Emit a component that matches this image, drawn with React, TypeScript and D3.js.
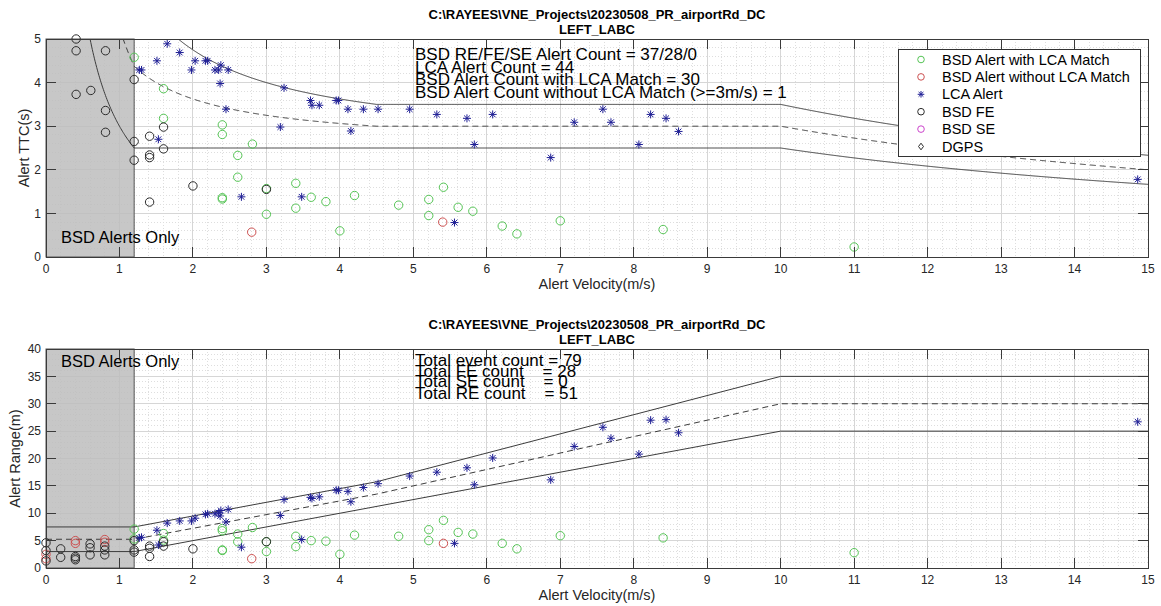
import React from 'react';
import * as d3 from 'd3';

const FONT = '"Liberation Sans", Arial, Helvetica, sans-serif';
const W = 1161;
const H = 606;
const LEFT = 46;
const RIGHT = 1148;

const titleLine1 = 'C:\\RAYEES\\VNE_Projects\\20230508_PR_airportRd_DC';
const titleLine2 = 'LEFT_LABC';
const xLabel = 'Alert Velocity(m/s)';
const velocityTicks = [0, 1, 2, 3, 4, 5, 6, 7, 8, 9, 10, 11, 12, 13, 14, 15];
const ttcTicks = [0, 1, 2, 3, 4, 5];
const rangeTicks = [0, 5, 10, 15, 20, 25, 30, 35, 40];

const ttcNotes = [
  'BSD RE/FE/SE Alert Count = 37/28/0',
  'LCA Alert Count = 44',
  'BSD Alert Count with LCA Match = 30',
  'BSD Alert Count without LCA Match (>=3m/s) = 1',
];
const rangeNotes = [
  'Total event count = 79',
  'Total FE count    = 28',
  'Total SE count    = 0',
  'Total RE count    = 51',
];
const legendLabels = [
  'BSD Alert with LCA Match',
  'BSD Alert without LCA Match',
  'LCA Alert',
  'BSD FE',
  'BSD SE',
  'DGPS',
];

// alert-range thresholds (m) at breakpoint velocities (m/s)
const upperVel = [0, 1.2, 4.5, 10, 15];
const upperRange = [7.5, 7.5, 15.75, 35, 35];
const midVel = [0, 1.2, 4.5, 10, 15];
const midRange = [5.25, 5.25, 13.5, 30, 30];
const lowerVel = [0, 1.2, 10, 15];
const lowerRange = [3, 3, 25, 25];
const bsdOnlyVel = 1.2;

// [velocity, TTC]
const ttcMatch: [number, number][] = [
  [1.2, 4.58], [1.6, 3.86], [1.6, 3.18], [2.4, 3.03], [2.4, 2.81], [2.81, 2.59], [2.61, 2.33],
  [2.61, 1.83], [2.4, 1.33], [2.4, 1.36], [3.0, 1.57], [3.0, 0.98], [3.4, 1.69], [3.4, 1.12],
  [3.61, 1.37], [3.81, 1.27], [4.0, 0.6], [4.2, 1.41], [4.8, 1.19], [5.21, 1.32], [5.41, 1.6],
  [5.21, 0.95], [5.61, 1.14], [5.81, 1.05], [6.21, 0.71], [6.41, 0.53], [7.0, 0.83], [8.4, 0.63],
  [11.0, 0.23],
];
const ttcNoMatch: [number, number][] = [[2.8, 0.57], [5.4, 0.8]];
const ttcLca: [number, number][] = [
  [1.65, 4.89], [1.82, 4.69], [1.51, 4.5], [2.03, 4.5], [2.17, 4.5], [2.2, 4.5], [1.27, 4.29],
  [1.3, 4.29], [1.98, 4.29], [2.3, 4.29], [2.35, 4.29], [2.48, 4.29], [2.38, 4.4], [2.37, 3.98],
  [2.45, 3.39], [1.53, 2.7], [2.66, 1.38], [3.24, 3.88], [3.19, 2.98], [3.48, 1.38], [3.6, 3.59],
  [3.62, 3.48], [3.72, 3.48], [3.95, 3.59], [3.98, 3.59], [4.11, 3.39], [4.32, 3.39], [4.52, 3.39],
  [4.15, 2.89], [4.95, 3.39], [5.32, 3.27], [5.73, 3.18], [6.08, 3.27], [5.83, 2.58], [6.87, 2.28],
  [7.19, 3.09], [7.58, 3.39], [7.69, 3.09], [8.07, 2.58], [8.23, 3.27], [8.44, 3.18], [8.61, 2.88],
  [5.56, 0.79], [14.86, 1.78],
];
const ttcFe: [number, number][] = [
  [0.41, 5.0], [0.41, 4.73], [0.81, 4.73], [0.41, 3.73], [0.61, 3.82], [0.81, 3.36], [0.81, 2.86],
  [1.2, 4.07], [1.2, 2.65], [1.2, 2.22], [1.41, 2.77], [1.41, 2.34], [1.41, 2.28], [1.6, 2.98],
  [1.6, 2.48], [1.41, 1.26], [2.0, 1.63], [3.0, 1.55],
];

// [velocity, range]
const rangeMatch: [number, number][] = [
  [1.2, 7.1], [1.2, 5.3], [1.6, 6.3], [1.6, 5.1], [2.4, 7.2], [2.4, 6.8], [2.81, 7.4], [2.61, 6.2],
  [2.61, 4.8], [2.4, 3.2], [2.4, 3.3], [3.0, 4.8], [3.0, 3.0], [3.4, 5.8], [3.4, 3.9], [3.61, 5.0],
  [3.81, 4.9], [4.0, 2.5], [4.2, 6.0], [4.8, 5.8], [5.21, 7.0], [5.41, 8.7], [5.21, 5.0], [5.61, 6.5],
  [5.81, 6.2], [6.21, 4.5], [6.41, 3.5], [7.0, 5.9], [8.4, 5.5], [11.0, 2.8],
];
const rangeNoMatch: [number, number][] = [
  [0, 2.5], [0, 1.7], [0.4, 5.0], [0.4, 4.5], [0.8, 5.2], [0.8, 4.7], [2.8, 1.7], [5.41, 4.5],
];
const rangeLca: [number, number][] = [
  [1.27, 5.5], [1.3, 5.6], [1.51, 6.9], [1.53, 4.2], [1.65, 8.2], [1.82, 8.6], [1.98, 8.6], [2.03, 9.1],
  [2.17, 9.8], [2.2, 9.9], [2.3, 9.9], [2.35, 10.1], [2.38, 10.5], [2.37, 9.5], [2.48, 10.7], [2.45, 8.4],
  [2.66, 3.8], [3.24, 12.5], [3.19, 9.6], [3.48, 5.2], [3.6, 12.9], [3.62, 12.7], [3.72, 13.0],
  [3.95, 14.2], [3.98, 14.2], [4.11, 14.0], [4.32, 14.7], [4.52, 15.4], [4.15, 12.1], [4.95, 16.8],
  [5.32, 17.5], [5.73, 18.3], [6.08, 20.1], [5.83, 15.2], [6.87, 16.1], [7.19, 22.2], [7.58, 25.7],
  [7.69, 23.7], [8.07, 20.8], [8.23, 27.0], [8.44, 27.1], [8.61, 24.7], [5.56, 4.5], [14.86, 26.7],
];
const rangeFe: [number, number][] = [
  [0, 4.6], [0, 3.2], [0, 1.3], [0.2, 3.5], [0.2, 1.95], [0.4, 2.1], [0.4, 1.8], [0.4, 1.5],
  [0.6, 4.4], [0.6, 3.7], [0.6, 2.4], [0.8, 4.0], [0.8, 3.3], [0.8, 2.4], [1.2, 5.0], [1.2, 3.3],
  [1.2, 2.9], [1.41, 4.0], [1.41, 3.6], [1.41, 2.1], [1.6, 4.0], [1.6, 4.8], [2.0, 3.5], [3.0, 4.8],
];

const GREEN = '#55c455';
const RED = '#cc5050';
const NAVY = '#1f1f95';
const BLACK = '#2b2b2b';
const MAGENTA = '#cc44cc';
const AXIS = '#3a3a3a';

function starPath(cx: number, cy: number, s: number) {
  const k = s * 0.72;
  return `M${cx - s},${cy}H${cx + s}M${cx},${cy - s}V${cy + s}` +
    `M${cx - k},${cy - k}L${cx + k},${cy + k}M${cx - k},${cy + k}L${cx + k},${cy - k}`;
}

function Marker({ kind, cx, cy, color, size }: { kind: string; cx: number; cy: number; color: string; size: number }) {
  if (kind === 'star') return <path d={starPath(cx, cy, size)} stroke={color} strokeWidth={1} fill="none" />;
  if (kind === 'diamond') {
    return <path d={`M${cx},${cy - size}L${cx + size * 0.75},${cy}L${cx},${cy + size}L${cx - size * 0.75},${cy}Z`} stroke={color} fill="none" />;
  }
  return <circle cx={cx} cy={cy} r={size} stroke={color} strokeWidth={1} fill="none" />;
}

type Series = { pts: [number, number][]; kind: string; color: string };

type PanelProps = {
  id: string;
  top: number;
  bottom: number;
  yMax: number;
  yTicks: number[];
  yMinorStep: number;
  yLabel: string;
  yLabelX: number;
  mode: 'ttc' | 'range';
  series: Series[];
  notes: string[];
  noteBaselines: number[];
  bsdBaseline: number;
  legend: boolean;
};

function Panel(p: PanelProps) {
  const x = d3.scaleLinear().domain([0, 15]).range([LEFT, RIGHT]);
  const y = d3.scaleLinear().domain([0, p.yMax]).range([p.bottom, p.top]);
  const majorY = p.yTicks[1] - p.yTicks[0];
  const xMinor = d3.range(1, 75).map(i => i * 0.2).filter(v => Math.abs(v - Math.round(v)) > 1e-6);
  const yMinor = d3.range(1, Math.round(p.yMax / p.yMinorStep))
    .map(i => i * p.yMinorStep)
    .filter(v => Math.abs(v / majorY - Math.round(v / majorY)) > 1e-6);

  const line = d3.line<[number, number]>().x(d => x(d[0])).y(d => y(d[1]));
  const thresholds = [
    { vel: upperVel, range: upperRange, dash: undefined as string | undefined },
    { vel: midVel, range: midRange, dash: '6,4' },
    { vel: lowerVel, range: lowerRange, dash: undefined },
  ];
  const curves = thresholds.map(t => {
    let pts: [number, number][];
    if (p.mode === 'range') {
      pts = t.vel.map((v, i) => [v, t.range[i]] as [number, number]);
    } else {
      // TTC threshold = range threshold / velocity
      const f = d3.scaleLinear().domain(t.vel).range(t.range);
      pts = d3.range(20, 1501).map(i => [i / 100, f(i / 100) / (i / 100)] as [number, number]);
    }
    return { d: line(pts) || '', dash: t.dash };
  });

  const cx = (LEFT + RIGHT) / 2;
  const tickLen = 10;

  return (
    <g>
      <defs>
        <clipPath id={p.id}>
          <rect x={LEFT} y={p.top} width={RIGHT - LEFT} height={p.bottom - p.top} />
        </clipPath>
      </defs>
      <rect x={LEFT} y={p.top} width={RIGHT - LEFT} height={p.bottom - p.top} fill="#fff" />
      <g shapeRendering="crispEdges">
        {xMinor.map(v => (
          <line key={'xm' + v} x1={x(v)} x2={x(v)} y1={p.top} y2={p.bottom} stroke="#dedede" strokeDasharray="1,2" />
        ))}
        {yMinor.map(v => (
          <line key={'ym' + v} x1={LEFT} x2={RIGHT} y1={y(v)} y2={y(v)} stroke="#dedede" strokeDasharray="1,2" />
        ))}
        {velocityTicks.map(v => (
          <line key={'xg' + v} x1={x(v)} x2={x(v)} y1={p.top} y2={p.bottom} stroke="#d6d6d6" />
        ))}
        {p.yTicks.map(v => (
          <line key={'yg' + v} x1={LEFT} x2={RIGHT} y1={y(v)} y2={y(v)} stroke="#d6d6d6" />
        ))}
      </g>
      <rect x={x(0)} y={p.top} width={x(bsdOnlyVel) - x(0)} height={p.bottom - p.top}
        fill="#bdbdbd" fillOpacity={0.85} stroke="#555" strokeWidth={1} />
      <g clipPath={`url(#${p.id})`}>
        {curves.map((c, i) => (
          <path key={i} d={c.d} fill="none" stroke="#3c3c3c" strokeWidth={1} strokeDasharray={c.dash} />
        ))}
      </g>
      {p.series.map((s, si) => (
        <g key={si}>
          {s.pts.map((d, i) => (
            <Marker key={i} kind={s.kind} cx={x(d[0])} cy={y(d[1])} color={s.color} size={s.kind === 'star' ? 4 : 4.2} />
          ))}
        </g>
      ))}
      <g stroke={AXIS} strokeWidth={1} shapeRendering="crispEdges">
        <rect x={LEFT} y={p.top} width={RIGHT - LEFT} height={p.bottom - p.top} fill="none" />
        {velocityTicks.map(v => (
          <g key={'xt' + v}>
            <line x1={x(v)} x2={x(v)} y1={p.bottom} y2={p.bottom - tickLen} />
            <line x1={x(v)} x2={x(v)} y1={p.top} y2={p.top + tickLen} />
          </g>
        ))}
        {p.yTicks.map(v => (
          <g key={'yt' + v}>
            <line x1={LEFT} x2={LEFT + tickLen} y1={y(v)} y2={y(v)} />
            <line x1={RIGHT} x2={RIGHT - tickLen} y1={y(v)} y2={y(v)} />
          </g>
        ))}
      </g>
      <g fontSize={12} fill="#262626">
        {velocityTicks.map(v => (
          <text key={'xl' + v} x={x(v)} y={p.bottom + 16} textAnchor="middle">{v}</text>
        ))}
        {p.yTicks.map(v => (
          <text key={'yl' + v} x={LEFT - 5} y={y(v)} dy="0.35em" textAnchor="end">{v}</text>
        ))}
      </g>
      <text x={cx} y={p.bottom + 32} textAnchor="middle" fontSize={14.5} fill="#262626">{xLabel}</text>
      <text transform={`translate(${p.yLabelX},${(p.top + p.bottom) / 2}) rotate(-90)`} textAnchor="middle"
        fontSize={14.5} fill="#262626">{p.yLabel}</text>
      <g fontSize={13} fontWeight="bold" textAnchor="middle" fill="#000">
        <text x={cx} y={p.top - 20}>{titleLine1}</text>
        <text x={cx} y={p.top - 5}>{titleLine2}</text>
      </g>
      <text x={61} y={p.bsdBaseline} fontSize={16.5} fill="#000">BSD Alerts Only</text>
      <g fontSize={17} fill="#000" style={{ whiteSpace: 'pre' }}>
        {p.notes.map((t, i) => (
          <text key={i} x={415} y={p.noteBaselines[i]} xmlSpace="preserve">{t}</text>
        ))}
      </g>
      {p.legend && <Legend />}
    </g>
  );
}

function Legend() {
  const kinds = [
    { kind: 'circle', color: GREEN },
    { kind: 'circle', color: RED },
    { kind: 'star', color: NAVY },
    { kind: 'circle', color: BLACK },
    { kind: 'circle', color: MAGENTA },
    { kind: 'diamond', color: BLACK },
  ];
  const rowY = d3.scaleLinear().domain([0, 5]).range([59.5, 146.5]);
  return (
    <g>
      <rect x={898} y={49} width={242} height={107} fill="#fff" stroke="#333" strokeWidth={1} shapeRendering="crispEdges" />
      {legendLabels.map((l, i) => (
        <g key={l}>
          <Marker kind={kinds[i].kind} cx={921} cy={rowY(i)} color={kinds[i].color} size={3.3} />
          <text x={942} y={rowY(i)} dy="0.35em" fontSize={14.5} fill="#000">{l}</text>
        </g>
      ))}
    </g>
  );
}

export default function App() {
  return (
    <svg width={W} height={H} viewBox={`0 0 ${W} ${H}`} fontFamily={FONT}
      style={{ position: 'absolute', left: 0, top: 0, display: 'block', background: '#fff' }}>
      <rect width={W} height={H} fill="#fff" />
      <Panel
        id="clip-ttc"
        top={39}
        bottom={257}
        yMax={5}
        yTicks={ttcTicks}
        yMinorStep={0.2}
        yLabel="Alert TTC(s)"
        yLabelX={29}
        mode="ttc"
        series={[
          { pts: ttcMatch, kind: 'circle', color: GREEN },
          { pts: ttcNoMatch, kind: 'circle', color: RED },
          { pts: ttcFe, kind: 'circle', color: BLACK },
          { pts: ttcLca, kind: 'star', color: NAVY },
        ]}
        notes={ttcNotes}
        noteBaselines={[60, 72.7, 85.3, 98]}
        bsdBaseline={243}
        legend={true}
      />
      <Panel
        id="clip-range"
        top={349}
        bottom={568}
        yMax={40}
        yTicks={rangeTicks}
        yMinorStep={1}
        yLabel="Alert Range(m)"
        yLabelX={20}
        mode="range"
        series={[
          { pts: rangeMatch, kind: 'circle', color: GREEN },
          { pts: rangeNoMatch, kind: 'circle', color: RED },
          { pts: rangeFe, kind: 'circle', color: BLACK },
          { pts: rangeLca, kind: 'star', color: NAVY },
        ]}
        notes={rangeNotes}
        noteBaselines={[366, 377.3, 387.3, 398.7]}
        bsdBaseline={367}
        legend={false}
      />
    </svg>
  );
}
